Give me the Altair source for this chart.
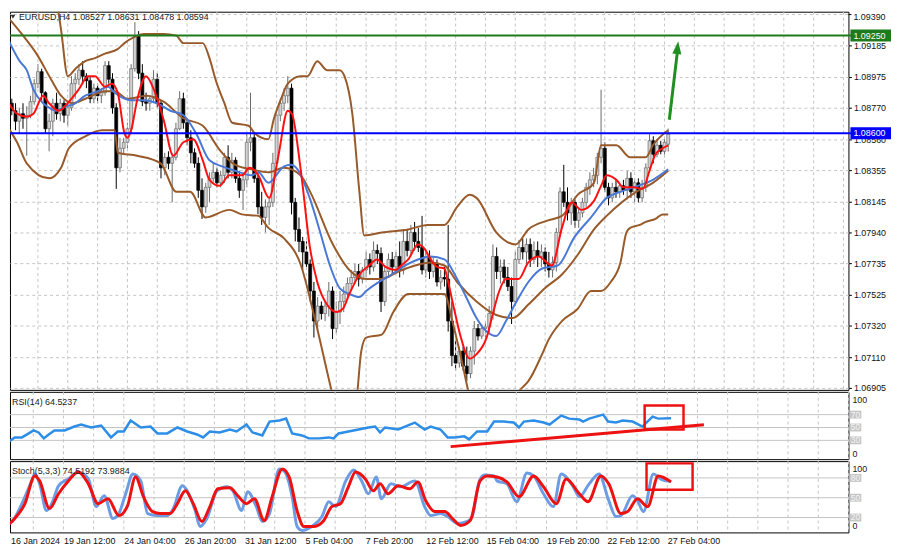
import altair as alt
import pandas as pd

# ---------------- EURUSD H4 candles (bar 0 = 16 Jan 2024 20:00) ----------------
bar_open = [
    1.0873, 1.0880, 1.0875, 1.0868, 1.0873, 1.0870, 1.0872, 1.0881, 1.0893, 1.0901,
    1.0887, 1.0863, 1.0868, 1.0880, 1.0873, 1.0880, 1.0872, 1.0877, 1.0893, 1.0896,
    1.0902, 1.0898, 1.0895, 1.0883, 1.0890, 1.0885, 1.0887, 1.0905, 1.0896, 1.0877,
    1.0837, 1.0850, 1.0854, 1.0863, 1.0903, 1.0925, 1.0900, 1.0881, 1.0880, 1.0883,
    1.0896, 1.0880, 1.0837, 1.0844, 1.0840, 1.0844, 1.0863, 1.0883, 1.0867, 1.0857,
    1.0847, 1.0840, 1.0822, 1.0811, 1.0824, 1.0830, 1.0834, 1.0827, 1.0832, 1.0844,
    1.0834, 1.0842, 1.0830, 1.0822, 1.0829, 1.0854, 1.0857, 1.0830, 1.0811, 1.0804,
    1.0811, 1.0814, 1.0840, 1.0872, 1.0880, 1.0885, 1.0890, 1.0814, 1.0796, 1.0788,
    1.0781, 1.0773, 1.0755, 1.0735, 1.0745, 1.0740, 1.0745, 1.0755, 1.0730, 1.0741,
    1.0748, 1.0753, 1.0760, 1.0764, 1.0768, 1.0763, 1.0769, 1.0776, 1.0771, 1.0782,
    1.0780, 1.0748, 1.0768, 1.0776, 1.0771, 1.0778, 1.0769, 1.0788, 1.0782, 1.0794,
    1.0788, 1.0784, 1.0769, 1.0778, 1.0768, 1.0773, 1.0761, 1.0764, 1.0763, 1.0735,
    1.0712, 1.0707, 1.0715, 1.0705, 1.0700, 1.0715, 1.0730, 1.0725, 1.0730, 1.0731,
    1.0740, 1.0778, 1.0768, 1.0771, 1.0764, 1.0758, 1.0748, 1.0776, 1.0784, 1.0781,
    1.0786, 1.0776, 1.0782, 1.0778, 1.0781, 1.0773, 1.0769, 1.0774, 1.0794, 1.0821,
    1.0814, 1.0807, 1.0814, 1.0802, 1.0807, 1.0814, 1.0824, 1.0829, 1.0832, 1.0844,
    1.0850, 1.0824, 1.0817, 1.0824, 1.0821, 1.0825, 1.0822, 1.0830, 1.0821, 1.0827,
    1.0817, 1.0824, 1.0837, 1.0855, 1.0846, 1.0852, 1.0848, 1.08527,
]
bar_high = [
    1.0885, 1.0883, 1.0880, 1.0877, 1.0880, 1.0878, 1.0885, 1.0896, 1.0906, 1.0903,
    1.0888, 1.0873, 1.0883, 1.0887, 1.0883, 1.0882, 1.0881, 1.0898, 1.0900, 1.0906,
    1.0908, 1.0900, 1.0898, 1.0893, 1.0893, 1.0890, 1.0908, 1.0908, 1.0900, 1.0880,
    1.0857, 1.0857, 1.0867, 1.0906, 1.0934, 1.0928, 1.0906, 1.0887, 1.0885, 1.0902,
    1.0900, 1.0882, 1.0847, 1.0848, 1.0847, 1.0867, 1.0888, 1.0887, 1.0870, 1.0862,
    1.0850, 1.0844, 1.0830, 1.0827, 1.0834, 1.0840, 1.0837, 1.0835, 1.0847, 1.0852,
    1.0847, 1.0844, 1.0835, 1.0834, 1.0860, 1.0887, 1.0860, 1.0834, 1.0821, 1.0816,
    1.0817, 1.0847, 1.0877, 1.0883, 1.0890, 1.0898, 1.0893, 1.0817, 1.0804, 1.0791,
    1.0788, 1.0776, 1.0761, 1.0751, 1.0748, 1.0748, 1.0761, 1.0758, 1.0748, 1.0755,
    1.0758, 1.0764, 1.0769, 1.0773, 1.0773, 1.0771, 1.0781, 1.0780, 1.0788, 1.0786,
    1.0784, 1.0771, 1.0780, 1.0781, 1.0781, 1.0788, 1.0796, 1.0796, 1.0799, 1.0801,
    1.0797, 1.0805, 1.0781, 1.0782, 1.0778, 1.0776, 1.0769, 1.0771, 1.0799, 1.0748,
    1.0722, 1.0718, 1.0718, 1.0718, 1.0718, 1.0735, 1.0733, 1.0733, 1.0735, 1.0745,
    1.0786, 1.0784, 1.0776, 1.0776, 1.0771, 1.0764, 1.0781, 1.0789, 1.0790, 1.0790,
    1.0790, 1.0788, 1.0788, 1.0786, 1.0784, 1.0781, 1.0778, 1.0797, 1.0824, 1.0839,
    1.0824, 1.0817, 1.0816, 1.0811, 1.0817, 1.0827, 1.0834, 1.0837, 1.0847, 1.0889,
    1.0854, 1.0827, 1.0827, 1.0829, 1.0827, 1.0829, 1.0835, 1.0834, 1.0830, 1.0830,
    1.0829, 1.0840, 1.0860, 1.0858, 1.0856, 1.0855, 1.0857, 1.08631,
]
bar_low = [
    1.0863, 1.0872, 1.0862, 1.0860, 1.0863, 1.0845, 1.0870, 1.0879, 1.0890, 1.0881,
    1.0860, 1.0848, 1.0858, 1.0869, 1.0868, 1.0867, 1.0865, 1.0875, 1.0883, 1.0892,
    1.0893, 1.0890, 1.0880, 1.0880, 1.0880, 1.0880, 1.0885, 1.0893, 1.0873, 1.0823,
    1.0834, 1.0846, 1.0850, 1.0860, 1.0901, 1.0896, 1.0878, 1.0875, 1.0875, 1.0880,
    1.0877, 1.0830, 1.0832, 1.0836, 1.0814, 1.0842, 1.0862, 1.0863, 1.0852, 1.0840,
    1.0837, 1.0817, 1.0803, 1.0807, 1.0814, 1.0827, 1.0824, 1.0824, 1.0827, 1.0830,
    1.0830, 1.0827, 1.0817, 1.0809, 1.0824, 1.0848, 1.0827, 1.0806, 1.0799, 1.0794,
    1.0799, 1.0811, 1.0837, 1.0868, 1.0875, 1.0880, 1.0806, 1.0788, 1.0781, 1.0769,
    1.0771, 1.0748, 1.0724, 1.0728, 1.0736, 1.0735, 1.0738, 1.0723, 1.0727, 1.0733,
    1.0741, 1.0749, 1.0755, 1.0760, 1.0758, 1.0760, 1.0764, 1.0766, 1.0768, 1.0773,
    1.0741, 1.0745, 1.0764, 1.0766, 1.0768, 1.0764, 1.0766, 1.0778, 1.0780, 1.0782,
    1.0781, 1.0766, 1.0764, 1.0763, 1.0764, 1.0758, 1.0756, 1.0758, 1.0728, 1.0705,
    1.0702, 1.0704, 1.0702, 1.0695, 1.0697, 1.0706, 1.0722, 1.0723, 1.0724, 1.0727,
    1.0736, 1.0763, 1.0760, 1.0760, 1.0755, 1.0733, 1.0745, 1.0773, 1.0776, 1.0773,
    1.0771, 1.0773, 1.0771, 1.0771, 1.0768, 1.0764, 1.0764, 1.0768, 1.0791, 1.0811,
    1.0802, 1.0799, 1.0797, 1.0797, 1.0804, 1.0811, 1.0819, 1.0824, 1.0826, 1.0840,
    1.0821, 1.0812, 1.0814, 1.0817, 1.0817, 1.0819, 1.0816, 1.0817, 1.0814, 1.0814,
    1.0814, 1.0821, 1.0834, 1.0840, 1.0844, 1.0846, 1.0844, 1.08478,
]
bar_close = [
    1.0880, 1.0875, 1.0868, 1.0873, 1.0870, 1.0872, 1.0881, 1.0893, 1.0901, 1.0887,
    1.0863, 1.0868, 1.0880, 1.0873, 1.0880, 1.0872, 1.0877, 1.0893, 1.0896, 1.0902,
    1.0898, 1.0895, 1.0883, 1.0890, 1.0885, 1.0887, 1.0905, 1.0896, 1.0877, 1.0837,
    1.0850, 1.0854, 1.0863, 1.0903, 1.0925, 1.0900, 1.0881, 1.0880, 1.0883, 1.0896,
    1.0880, 1.0837, 1.0844, 1.0840, 1.0844, 1.0863, 1.0883, 1.0867, 1.0857, 1.0847,
    1.0840, 1.0822, 1.0811, 1.0824, 1.0830, 1.0834, 1.0827, 1.0832, 1.0844, 1.0834,
    1.0842, 1.0830, 1.0822, 1.0829, 1.0854, 1.0857, 1.0830, 1.0811, 1.0804, 1.0811,
    1.0814, 1.0840, 1.0872, 1.0880, 1.0885, 1.0890, 1.0814, 1.0796, 1.0788, 1.0781,
    1.0773, 1.0755, 1.0735, 1.0745, 1.0740, 1.0745, 1.0755, 1.0730, 1.0741, 1.0748,
    1.0753, 1.0760, 1.0764, 1.0768, 1.0763, 1.0769, 1.0776, 1.0771, 1.0782, 1.0780,
    1.0748, 1.0768, 1.0776, 1.0771, 1.0778, 1.0769, 1.0788, 1.0782, 1.0794, 1.0788,
    1.0784, 1.0769, 1.0778, 1.0768, 1.0773, 1.0761, 1.0764, 1.0763, 1.0735, 1.0712,
    1.0707, 1.0715, 1.0705, 1.0700, 1.0715, 1.0730, 1.0725, 1.0730, 1.0731, 1.0740,
    1.0778, 1.0768, 1.0771, 1.0764, 1.0758, 1.0748, 1.0776, 1.0784, 1.0781, 1.0786,
    1.0776, 1.0782, 1.0778, 1.0781, 1.0773, 1.0769, 1.0774, 1.0794, 1.0821, 1.0814,
    1.0807, 1.0814, 1.0802, 1.0807, 1.0814, 1.0824, 1.0829, 1.0832, 1.0844, 1.0850,
    1.0824, 1.0817, 1.0824, 1.0821, 1.0825, 1.0822, 1.0830, 1.0821, 1.0827, 1.0817,
    1.0824, 1.0837, 1.0855, 1.0846, 1.0852, 1.0848, 1.0854, 1.08594,
]

# ---------------- indicator lines (bar index, value) ----------------
ma_red = [(-0.3, 1.0882), (2.4, 1.0873), (5.0, 1.0871), (6.8, 1.0873), (9.4, 1.0885), (11.0, 1.0880),
          (13.6, 1.0875), (16.3, 1.0881), (18.9, 1.0889), (21.5, 1.0898), (23.3, 1.0898), (26.0, 1.0891),
          (27.8, 1.0893), (29.4, 1.0887), (31.2, 1.0860), (32.0, 1.0857), (33.0, 1.0862), (34.6, 1.0882),
          (37.0, 1.0898), (39.1, 1.0889), (41.7, 1.0869), (44.3, 1.0845), (47.0, 1.0854), (49.6, 1.0856),
          (52.2, 1.0842), (54.0, 1.0829), (56.7, 1.0825), (59.3, 1.0832), (62.7, 1.0832), (64.8, 1.0837),
          (67.1, 1.0832), (70.0, 1.0817), (72.4, 1.0844), (75.0, 1.0875), (76.1, 1.0873), (78.4, 1.0837),
          (81.0, 1.0783), (82.9, 1.0761), (85.5, 1.0746), (88.1, 1.0741), (89.7, 1.0743), (91.5, 1.0753),
          (94.2, 1.0766), (96.8, 1.0772), (98.9, 1.0776), (101.2, 1.0771), (103.9, 1.0769), (105.4, 1.0772),
          (107.3, 1.0776), (109.9, 1.0786), (111.7, 1.0783), (113.3, 1.0776), (115.1, 1.0771), (117.0, 1.0770),
          (117.8, 1.0763), (119.6, 1.0743), (121.2, 1.0726), (123.8, 1.0710), (125.6, 1.0713), (128.3, 1.0724),
          (130.1, 1.0741), (131.7, 1.0755), (133.5, 1.0763), (136.9, 1.0763), (139.5, 1.0774), (142.2, 1.0778),
          (145.8, 1.0772), (148.5, 1.0797), (151.1, 1.0814), (153.7, 1.0809), (157.1, 1.0815), (159.0, 1.0825),
          (160.5, 1.0832), (163.1, 1.0829), (165.0, 1.0824), (167.6, 1.0824), (170.2, 1.0823), (172.1, 1.0836),
          (173.6, 1.0846), (175.5, 1.0850), (177.0, 1.0852)]
ma_blue = [(-0.3, 1.0924), (3.1, 1.0908), (5.0, 1.0902), (6.8, 1.0889), (9.4, 1.0880), (11.0, 1.0877),
           (12.9, 1.0875), (15.5, 1.0878), (17.3, 1.0879), (20.7, 1.0885), (24.1, 1.0888), (26.8, 1.0891),
           (28.6, 1.0887), (33.0, 1.0882), (36.5, 1.0882), (39.9, 1.0880), (43.5, 1.0875), (47.0, 1.0872),
           (50.4, 1.0860), (54.0, 1.0842), (57.4, 1.0838), (60.9, 1.0835), (65.3, 1.0832), (67.1, 1.0834),
           (69.8, 1.0827), (74.0, 1.0838), (75.8, 1.0839), (77.6, 1.0836), (81.0, 1.0816), (83.7, 1.0794),
           (86.3, 1.0772), (88.9, 1.0757), (91.5, 1.0753), (94.2, 1.0751), (96.0, 1.0755), (99.4, 1.0761),
           (102.8, 1.0766), (106.5, 1.0772), (109.9, 1.0776), (113.3, 1.0778), (117.0, 1.0776), (120.4, 1.0763),
           (123.0, 1.0750), (125.6, 1.0737), (128.3, 1.0728), (130.9, 1.0725), (133.5, 1.0735), (136.1, 1.0747),
           (139.5, 1.0761), (143.2, 1.0770), (147.4, 1.0772), (151.9, 1.0791), (156.3, 1.0804), (160.5, 1.0817),
           (164.2, 1.0821), (167.6, 1.0824), (172.9, 1.0829), (177.0, 1.0836)]
bb_upper = [(-0.3, 1.0986), (10.2, 1.0976), (12.3, 1.0959), (14.2, 1.0929), (16.0, 1.0898), (18.1, 1.0903),
            (20.7, 1.0908), (23.3, 1.0910), (26.0, 1.0913), (29.4, 1.0916), (31.2, 1.0920), (33.8, 1.0924),
            (36.5, 1.0926), (41.7, 1.0926), (45.1, 1.0925), (47.0, 1.0920), (52.2, 1.0920), (54.0, 1.0910),
            (55.6, 1.0896), (58.0, 1.0880), (60.1, 1.0867), (64.5, 1.0865), (66.1, 1.0860), (69.8, 1.0856),
            (71.3, 1.0870), (73.2, 1.0883), (75.0, 1.0893), (78.4, 1.0898), (80.3, 1.0898), (82.9, 1.0908),
            (85.5, 1.0902), (88.9, 1.0902), (90.2, 1.0898), (92.3, 1.0873), (94.2, 1.0821), (95.5, 1.0792),
            (100.2, 1.0794), (107.3, 1.0796), (112.5, 1.0799), (117.0, 1.0799), (120.4, 1.0811), (123.8, 1.0819),
            (125.6, 1.0817), (130.9, 1.0794), (136.1, 1.0786), (139.5, 1.0796), (144.8, 1.0802), (148.5, 1.0805),
            (152.7, 1.0819), (157.1, 1.0827), (159.0, 1.0852), (163.1, 1.0852), (166.8, 1.0844), (171.0, 1.0844),
            (172.9, 1.0852), (177.0, 1.0862)]
bb_middle = [(-0.3, 1.0938), (3.7, 1.0926), (7.6, 1.0913), (11.5, 1.0896), (14.2, 1.0885), (17.3, 1.0880),
             (20.7, 1.0883), (26.0, 1.0888), (28.6, 1.0888), (32.0, 1.0883), (37.2, 1.0885), (41.7, 1.0881),
             (47.0, 1.0870), (52.2, 1.0865), (56.7, 1.0849), (60.9, 1.0839), (65.3, 1.0836), (69.8, 1.0834),
             (74.0, 1.0837), (78.4, 1.0832), (81.0, 1.0821), (87.1, 1.0786), (91.5, 1.0769), (96.0, 1.0763),
             (100.2, 1.0763), (104.7, 1.0768), (109.1, 1.0772), (113.3, 1.0774), (117.0, 1.0772), (120.4, 1.0761),
             (125.6, 1.0748), (130.9, 1.0739), (135.3, 1.0737), (139.5, 1.0746), (144.0, 1.0757), (148.5, 1.0766),
             (152.7, 1.0779), (157.1, 1.0796), (160.5, 1.0805), (168.4, 1.0821), (172.9, 1.0827), (177.0, 1.0835)]
bb_lower = [(-0.3, 1.0865), (2.4, 1.0854), (5.0, 1.0840), (11.0, 1.0830), (14.2, 1.0837), (16.3, 1.0850),
            (20.7, 1.0858), (25.2, 1.0862), (28.6, 1.0862), (29.4, 1.0847), (34.6, 1.0845), (40.9, 1.0840),
            (45.1, 1.0821), (48.8, 1.0821), (53.0, 1.0804), (59.3, 1.0809), (62.7, 1.0806), (67.1, 1.0805),
            (69.8, 1.0797), (74.0, 1.0790), (78.4, 1.0773), (82.4, 1.0735), (87.1, 1.0685), (90.2, 1.0656),
            (93.4, 1.0682), (94.7, 1.0715), (96.0, 1.0724), (100.2, 1.0726), (103.3, 1.0741), (107.3, 1.0753),
            (117.0, 1.0753), (119.1, 1.0735), (121.7, 1.0708), (123.8, 1.0685), (128.3, 1.0669), (134.3, 1.0682),
            (138.0, 1.0691), (139.5, 1.0695), (143.2, 1.0713), (144.8, 1.0722), (148.5, 1.0735), (152.7, 1.0743),
            (156.3, 1.0755), (159.0, 1.0755), (161.6, 1.0761), (164.2, 1.0774), (165.8, 1.0794), (166.8, 1.0797),
            (169.4, 1.0799), (171.0, 1.0801), (173.6, 1.0803), (175.5, 1.0806), (177.0, 1.0806)]
rsi14 = [(-0.3, 31.5), (1.6, 28.5), (3.1, 34.6), (5.0, 34.6), (6.8, 40.8), (8.1, 45.4), (9.4, 42.3), (10.8, 33.1),
         (12.1, 39.2), (13.6, 45.4), (16.3, 45.4), (18.9, 51.5), (20.7, 54.6), (23.3, 50.0), (26.0, 53.1),
         (28.6, 34.6), (30.4, 43.8), (32.0, 43.8), (33.8, 60.8), (36.5, 50.0), (39.1, 51.5), (40.9, 40.8),
         (43.5, 40.8), (46.2, 50.0), (48.8, 43.8), (51.4, 39.2), (53.0, 34.6), (54.8, 43.8), (57.4, 42.3),
         (60.1, 46.9), (61.9, 43.8), (64.5, 54.6), (66.1, 42.3), (68.7, 37.7), (70.6, 59.2), (73.2, 60.8),
         (75.0, 63.8), (76.6, 40.8), (79.2, 37.7), (81.0, 33.1), (83.7, 33.1), (86.3, 34.6), (87.6, 33.1),
         (88.9, 40.8), (91.5, 43.8), (94.2, 46.9), (96.8, 50.0), (98.6, 51.5), (99.9, 42.3), (101.2, 50.0),
         (104.7, 46.9), (106.5, 51.5), (109.1, 57.7), (111.7, 46.9), (113.3, 51.5), (115.9, 46.9), (117.8, 34.6),
         (119.6, 34.6), (122.2, 36.2), (123.5, 31.5), (125.6, 43.8), (128.3, 43.8), (130.1, 59.2), (132.7, 59.2),
         (135.3, 57.7), (136.7, 50.0), (138.0, 59.2), (140.6, 60.8), (143.2, 57.7), (144.8, 54.6), (147.9, 68.5),
         (150.0, 63.8), (152.7, 62.3), (153.7, 59.2), (155.3, 63.8), (159.0, 70.0), (160.3, 59.2), (162.4, 57.7),
         (164.2, 60.8), (166.8, 59.2), (169.4, 51.5), (172.1, 66.9), (173.6, 63.8), (177.0, 64.5)]
stoch_k = [(-0.3, 6.5), (2.4, 14.0), (5.0, 41.0), (7.6, 75.5), (8.4, 86.0), (9.7, 71.0), (11.5, 30.5), (12.9, 41.0),
           (14.7, 68.0), (17.3, 78.5), (19.9, 89.0), (22.6, 78.5), (24.7, 36.5), (26.8, 53.0), (29.1, 18.5),
           (30.4, 23.0), (32.5, 56.0), (34.4, 86.0), (36.5, 75.5), (38.3, 26.0), (40.9, 23.0), (43.5, 23.0),
           (45.1, 33.5), (47.5, 68.0), (48.8, 60.5), (50.9, 30.5), (52.2, 6.5), (54.0, 18.5), (56.7, 60.5),
           (59.3, 66.5), (60.9, 60.5), (63.2, 30.5), (64.8, 59.0), (67.1, 36.5), (68.7, 14.0), (70.6, 26.0),
           (73.2, 93.5), (74.5, 90.5), (76.6, 51.5), (77.9, 6.5), (79.2, 0.5), (81.8, 6.5), (84.5, 21.5),
           (86.3, 44.0), (88.1, 36.5), (90.8, 75.5), (92.9, 92.0), (95.0, 75.5), (96.8, 56.0), (98.9, 81.5),
           (100.2, 48.5), (102.8, 71.0), (105.4, 66.5), (109.1, 75.5), (111.7, 36.5), (113.3, 23.0), (115.9, 26.0),
           (117.8, 21.5), (120.4, 11.0), (123.0, 14.0), (124.3, 21.5), (126.2, 75.5), (127.5, 84.5), (130.1, 83.0),
           (130.9, 75.5), (133.5, 71.0), (136.1, 44.0), (138.8, 87.5), (140.6, 83.0), (143.2, 56.0), (145.8, 36.5),
           (147.9, 86.0), (151.1, 66.5), (152.7, 51.5), (155.3, 71.0), (157.9, 86.0), (160.5, 45.5), (162.4, 21.5),
           (163.7, 23.0), (166.8, 53.0), (168.1, 45.5), (169.7, 29.0), (172.3, 86.0), (174.2, 78.5), (177.0, 74.5)]
stoch_d = [(-0.3, 2.0), (3.1, 18.5), (5.8, 41.0), (8.4, 83.0), (9.7, 75.5), (12.3, 33.5), (14.7, 56.0), (17.3, 75.5),
           (19.9, 89.0), (22.6, 71.0), (25.2, 41.0), (27.8, 48.5), (30.7, 23.0), (33.0, 38.0), (35.1, 81.5),
           (37.2, 51.5), (39.6, 29.0), (41.7, 26.0), (44.3, 26.0), (46.2, 41.0), (48.3, 60.5), (50.4, 41.0),
           (52.7, 14.0), (54.8, 36.5), (56.9, 63.5), (60.1, 65.0), (62.2, 53.0), (64.5, 41.0), (66.6, 48.5),
           (69.2, 15.5), (71.3, 51.5), (74.0, 93.5), (75.8, 81.5), (77.9, 30.5), (79.7, 6.5), (82.4, 6.5),
           (85.0, 15.5), (87.1, 36.5), (89.4, 41.0), (91.5, 66.5), (93.4, 89.0), (96.0, 78.5), (98.1, 60.5),
           (99.9, 71.0), (102.0, 56.0), (104.7, 68.0), (107.8, 63.5), (109.9, 74.0), (112.0, 45.5), (114.4, 29.0),
           (117.0, 29.0), (119.1, 18.5), (121.2, 8.0), (123.8, 15.5), (126.4, 75.5), (128.3, 83.0), (130.9, 81.5),
           (133.5, 74.0), (136.7, 51.5), (140.6, 83.0), (143.2, 66.5), (146.6, 41.0), (149.2, 78.5), (152.7, 56.0),
           (155.0, 44.0), (158.4, 83.0), (160.5, 71.0), (163.7, 26.0), (165.5, 29.0), (168.1, 48.5), (170.8, 36.5),
           (173.6, 83.0), (177.0, 74.0)]

# ---------------- axes, levels, annotations ----------------
price_ticks = [1.09185, 1.08975, 1.08770, 1.08560, 1.08355, 1.08145,
               1.07940, 1.07735, 1.07525, 1.07320, 1.07110, 1.06905]
price_top_tick = 1.09390
x_tick_pos = [2, 16, 32, 48, 64, 80, 96, 112, 128, 144, 160, 176]
x_tick_labels = ["16 Jan 2024", "19 Jan 12:00", "24 Jan 04:00", "26 Jan 20:00", "31 Jan 12:00",
                 "5 Feb 04:00", "7 Feb 20:00", "12 Feb 12:00", "15 Feb 04:00", "19 Feb 20:00",
                 "22 Feb 12:00", "27 Feb 04:00"]
h_levels = [1.09250, 1.08600]
h_level_text = ["1.09250", "1.08600"]
h_level_colors = ["#1d7a1d", "#0000ff"]
arrow_line = {"x": 177.3, "y": 1.0869, "x2": 179.4, "y2": 1.0913}
arrow_head = {"x": 179.5, "y": 1.0917}
rsi_trend = {"x": 118.6, "y": 20.3, "x2": 185.7, "y2": 54.2}
rsi_box = {"x": 170.0, "y": 84.3, "x2": 180.3, "y2": 46.9}
stoch_box = {"x": 170.5, "y": 102.0, "x2": 182.7, "y2": 62.0}
title_text = "EURUSD,H4  1.08527 1.08631 1.08478 1.08594"
rsi_text = "RSI(14) 64.5237"
stoch_text = "Stoch(5,3,3) 74.5192 73.9884"

# ---------------- chart ----------------
FONT = "Liberation Sans"
W = 847
GRID = "#c4c4c4"
xs = alt.Scale(domain=[1.836, 224.0], nice=False, zero=False)
ps = alt.Scale(domain=[1.06892, 1.09409], nice=False, zero=False)
rs = alt.Scale(domain=[0.8, 105.4], nice=False, zero=False)
ss = alt.Scale(domain=[-2.55, 105.4], nice=False, zero=False)

price_axis = alt.Axis(orient="right", values=price_ticks, format=".5f", title=None, domain=False,
                      tickSize=3, tickColor="#000000", labelFont=FONT, labelFontSize=9, labelColor="#111111",
                      labelPadding=2, grid=True, gridDash=[3, 3], gridColor=GRID, labelOverlap=False)
label_expr = " : ".join(f"datum.value == {p} ? '{t}'" for p, t in zip(x_tick_pos, x_tick_labels)) + " : ''"
bottom_axis = alt.Axis(values=x_tick_pos, labelExpr=label_expr, ticks=False, domain=False,
                       grid=False, title=None, labelAlign="left", labelBaseline="top", labelPadding=4,
                       labelFont=FONT, labelFontSize=9, labelColor="#111111", labelOverlap=False,
                       labelFlush=False)

grid_df = pd.DataFrame({"g": list(range(8, 225, 8))})


def vgrid(xa=None):
    return alt.Chart(grid_df).mark_rule(color=GRID, strokeWidth=1, strokeDash=[3, 3]).encode(
        x=alt.X("g:Q", scale=xs, axis=xa))


def line(pairs, yscale, color, width, interp="monotone", xa=None, ya=None):
    df = pd.DataFrame(pairs, columns=["x", "y"])
    return alt.Chart(df).mark_line(color=color, strokeWidth=width, interpolate=interp, clip=True).encode(
        x=alt.X("x:Q", scale=xs, axis=xa), y=alt.Y("y:Q", scale=yscale, axis=ya))


def txt(s, x, y, size=9, color="#1a1a1a", align="left"):
    return alt.Chart(pd.DataFrame({"t": [s]})).mark_text(
        align=align, baseline="middle", font=FONT, fontSize=size, color=color).encode(
        x=alt.value(x), y=alt.value(y), text="t:N")


def seg(d, yscale, color, width, xa=None, ya=None):
    return alt.Chart(pd.DataFrame([d])).mark_rule(color=color, strokeWidth=width).encode(
        x=alt.X("x:Q", scale=xs, axis=xa), y=alt.Y("y:Q", scale=yscale, axis=ya), x2="x2:Q", y2="y2:Q")


def box(d, yscale, xa=None):
    return alt.Chart(pd.DataFrame([d])).mark_rect(fillOpacity=0, stroke="#ee1111", strokeWidth=2.5).encode(
        x=alt.X("x:Q", scale=xs, axis=xa), y=alt.Y("y:Q", scale=yscale, axis=None), x2="x2:Q", y2="y2:Q")


def side_levels(vals, yscale, top_y, bot_y):
    df = pd.DataFrame({"v": vals, "t": [str(v) for v in vals]})
    boxes = alt.Chart(df).mark_point(shape="M-1.5,-1L1.5,-1L1.5,1L-1.5,1Z", size=64, filled=True,
                                     color="#c6c6c6", opacity=1).encode(
        x=alt.value(W + 7), y=alt.Y("v:Q", scale=yscale, axis=None))
    labels = alt.Chart(df).mark_text(align="center", baseline="middle", font=FONT, fontSize=8.5,
                                     color="#f4f4f4").encode(
        x=alt.value(W + 7), y=alt.Y("v:Q", scale=yscale, axis=None), text="t:N")
    rules = alt.Chart(df).mark_rule(color=GRID, strokeWidth=1).encode(y=alt.Y("v:Q", scale=yscale, axis=None))
    return [rules], [boxes, labels, txt("100", W + 4, top_y), txt("0", W + 4, bot_y)]


# ---- main price panel (every y encoding carries the same axis so they merge) ----
candles = pd.DataFrame({"i": list(range(len(bar_close))), "open": bar_open, "high": bar_high,
                        "low": bar_low, "close": bar_close})
up = "datum.close >= datum.open"
PA = price_axis

wicks = alt.Chart(candles).mark_rule(strokeWidth=1, clip=True).encode(
    x=alt.X("i:Q", scale=xs, axis=None),
    y=alt.Y("low:Q", scale=ps, axis=PA), y2="high:Q",
    color=alt.condition(up, alt.value("#6a6a6a"), alt.value("#000000")))
bodies = alt.Chart(candles).mark_bar(size=3, clip=True, strokeWidth=0.7).encode(
    x=alt.X("i:Q", scale=xs, axis=None),
    y=alt.Y("open:Q", scale=ps, axis=PA), y2="close:Q",
    fill=alt.condition(up, alt.value("#d2d2d2"), alt.value("#000000")),
    stroke=alt.condition(up, alt.value("#6a6a6a"), alt.value("#000000")))

top_df = pd.DataFrame({"p": [price_top_tick]})
top_grid = alt.Chart(top_df).mark_rule(color=GRID, strokeWidth=1, strokeDash=[3, 3]).encode(
    y=alt.Y("p:Q", scale=ps, axis=PA))
top_tick = alt.Chart(top_df).mark_rule(color="#000000", strokeWidth=1).encode(
    y=alt.Y("p:Q", scale=ps, axis=PA), x=alt.value(W), x2=alt.value(W + 3))
top_label = txt("1.09390", W + 5, 5, color="#111111")

lev_df = pd.DataFrame({"p": h_levels, "t": h_level_text, "c": h_level_colors})
hlines = alt.Chart(lev_df).mark_rule(strokeWidth=2).encode(
    y=alt.Y("p:Q", scale=ps, axis=PA), x=alt.value(0), x2=alt.value(W + 3),
    color=alt.Color("c:N", scale=None))
hboxes = alt.Chart(lev_df).transform_calculate(lo="datum.p - 0.0004", hi="datum.p + 0.0004").mark_rect().encode(
    x=alt.value(W + 2), x2=alt.value(W + 43), y=alt.Y("lo:Q", scale=ps, axis=PA), y2="hi:Q",
    color=alt.Color("c:N", scale=None))
htext = alt.Chart(lev_df).mark_text(align="left", baseline="middle", font=FONT, fontSize=9,
                                    color="#ffffff").encode(
    x=alt.value(W + 5), y=alt.Y("p:Q", scale=ps, axis=PA), text="t:N")

arrow = seg(arrow_line, ps, "#1f8f1f", 3, ya=PA)
head = alt.Chart(pd.DataFrame([arrow_head])).mark_point(
    shape="M0,-1L0.7,1L-0.7,1Z", size=169, filled=True, opacity=1, color="#1f8f1f", angle=6.5).encode(
    x=alt.X("x:Q", scale=xs, axis=None), y=alt.Y("y:Q", scale=ps, axis=PA))
marker = alt.Chart(pd.DataFrame({"t": [1]})).mark_point(shape="triangle-down", size=22, filled=True,
                                                        opacity=1, color="#333333").encode(
    x=alt.value(3), y=alt.value(5))

BROWN = "#985a2a"
main = alt.layer(
    wicks, vgrid(), top_grid, bodies,
    line(bb_upper, ps, BROWN, 2, ya=PA), line(bb_middle, ps, BROWN, 2, ya=PA),
    line(bb_lower, ps, BROWN, 2, ya=PA),
    line(ma_blue, ps, "#4a78d6", 2, ya=PA), line(ma_red, ps, "#ff1010", 2, ya=PA),
    hlines, hboxes, htext, arrow, head, marker, txt(title_text, 9, 5), top_tick, top_label,
).properties(width=W, height=382)

# ---- RSI panel ----
r_under, r_over = side_levels([70, 50, 30], rs, 8, 63)
rsi_panel = alt.layer(
    vgrid(), *r_under,
    line(rsi14, rs, "#2d8ee8", 2.5, "linear"),
    seg(rsi_trend, rs, "#ee1111", 3), box(rsi_box, rs),
    *r_over, txt(rsi_text, 2, 10),
).properties(width=W, height=68)

# ---- Stochastic panel (every x encoding carries the bottom axis) ----
BA = bottom_axis
s_under, s_over = side_levels([80, 50, 20], ss, 8, 66)
stoch_panel = alt.layer(
    vgrid(BA), *s_under,
    line(stoch_k, ss, "#6c9de4", 3, xa=BA), line(stoch_d, ss, "#ee1111", 3, xa=BA),
    box(stoch_box, ss, xa=BA),
    *s_over, txt(stoch_text, 2, 10),
).properties(width=W, height=72)

chart = alt.vconcat(main, rsi_panel, stoch_panel, spacing=2, bounds="flush").properties(
    padding=0
).configure_view(stroke="#000000", strokeWidth=1)

chart.save("out.html", embed_options={"renderer": "svg", "actions": False})
